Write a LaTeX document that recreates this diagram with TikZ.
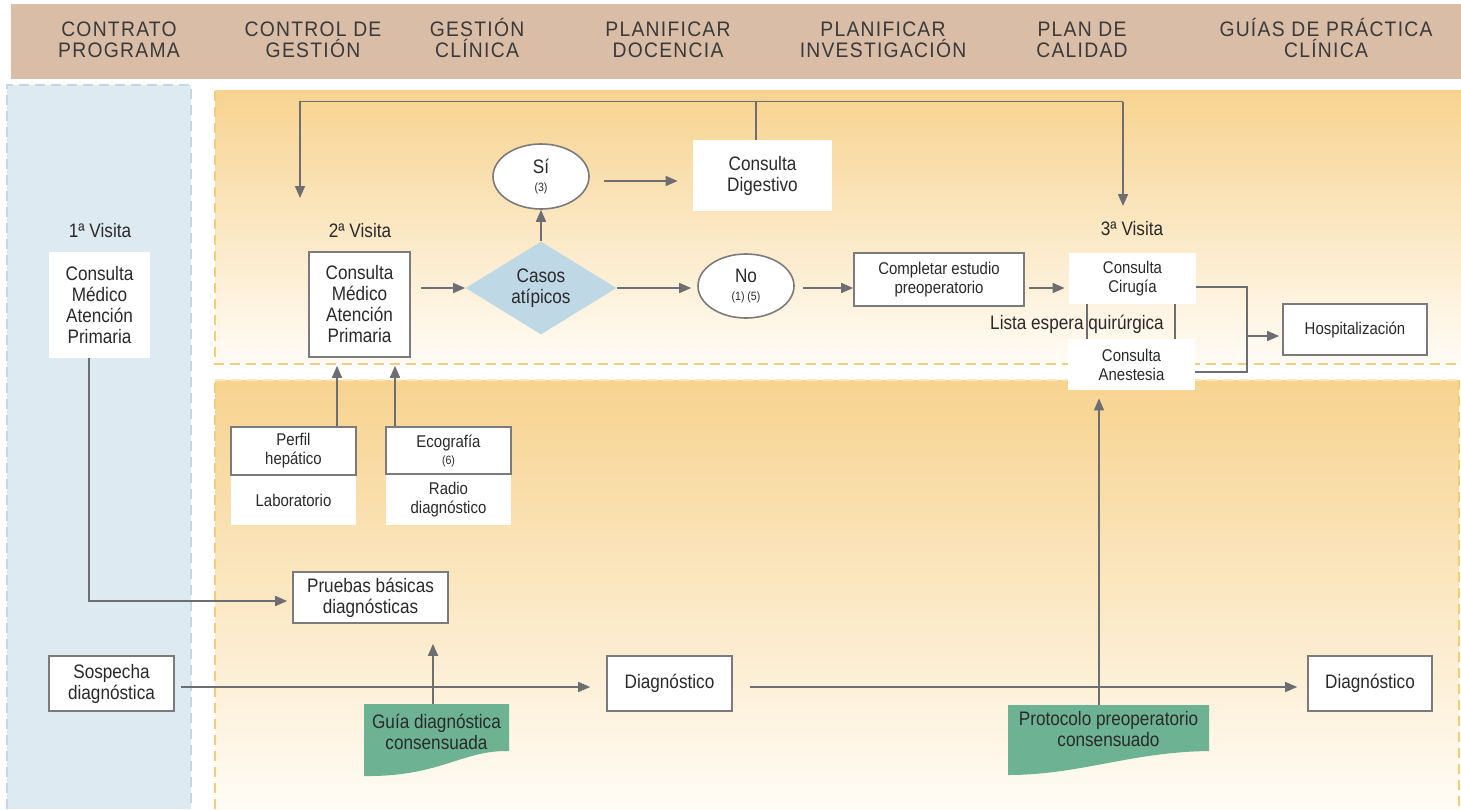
\documentclass[tikz,border=0pt]{standalone}
\usepackage{fontspec}
\setmainfont{Liberation Sans}[FakeStretch=0.88]
\newfontfamily\hdrfont{Liberation Sans}[FakeStretch=0.92,LetterSpace=6]
\usetikzlibrary{shapes.geometric,arrows.meta,calc}
\definecolor{hdr}{HTML}{D9BDA6}
\definecolor{blu}{HTML}{DDEAF2}
\definecolor{bluedge}{HTML}{C3D9E6}
\definecolor{orgtop}{HTML}{F7D38F}
\definecolor{orgbot}{HTML}{FFFCF6}
\definecolor{orgedge}{HTML}{F6CB7A}
\definecolor{pale}{HTML}{FBE6BE}
\definecolor{dia}{HTML}{BFD8E6}
\definecolor{grn}{HTML}{6DB393}
\definecolor{lin}{HTML}{6D6E71}
\definecolor{brd}{HTML}{7B7B7D}
\definecolor{txt}{HTML}{2A2A2A}
\definecolor{htxt}{HTML}{3A3A3A}
\newcommand{\lgf}{\fontsize{9.75}{10.5}\selectfont}
\newcommand{\smf}{\fontsize{8.5}{9.5}\selectfont}
\newcommand{\subf}{\fontsize{6}{7}\selectfont}
\newcommand{\hph}{\vphantom{ÍÓ}}
\begin{document}
\begin{tikzpicture}[x=0.5pt,y=-0.5pt,
  every node/.style={text=txt, inner sep=0pt, align=center},
  box/.style={draw=brd, line width=0.8pt, fill=white, font=\lgf},
  wbox/.style={fill=white, font=\lgf},
  sbox/.style={draw=brd, line width=0.8pt, fill=white, font=\smf},
  swbox/.style={fill=white, font=\smf},
  lab/.style={font=\lgf},
  hdrtxt/.style={text=htxt, font=\hdrfont\fontsize{10.5}{10.5}\selectfont},
  ell/.style={ellipse, draw=brd, line width=0.8pt, fill=white, font=\lgf},
  ln/.style={draw=lin, line width=0.8pt},
  arr/.style={ln, -{Triangle[length=6pt,width=5pt]}},
  dsh/.style={line width=0.9pt, dash pattern=on 5pt off 3pt},
]
\useasboundingbox (0,0) rectangle (1461,809);
% panels
\fill[hdr] (11,4) rectangle (1461,79);
\fill[blu] (7,85) rectangle (191,809);
\draw[bluedge, dsh] (7,809) -- (7,85) -- (191,85) -- (191,809);
\shade[top color=orgtop, bottom color=orgbot] (215,90.5) rectangle (1461,364);
\draw[orgedge, dsh] (215,90.5) -- (215,364) -- (1461,364);
\shade[top color=orgtop, bottom color=orgbot] (215,380) rectangle (1459,809);
\draw[orgedge, dsh] (215,809) -- (215,380);
\draw[orgedge, dsh] (1459,380) -- (1459,809);
\draw[pale, dsh] (215,380) -- (1459,380);
% header
\node[hdrtxt] (h1) at (119,38) {\hph CONTRATO\\PROGRAMA};
\node[hdrtxt] (h2) at (313,38) {\hph CONTROL DE\\GESTIÓN};
\node[hdrtxt] (h3) at (477,38) {\hph GESTIÓN\\CLÍNICA};
\node[hdrtxt] (h4) at (668,38) {\hph PLANIFICAR\\DOCENCIA};
\node[hdrtxt] (h5) at (883,38) {\hph PLANIFICAR\\INVESTIGACIÓN};
\node[hdrtxt] (h6) at (1082,38) {\hph PLAN DE\\CALIDAD};
\node[hdrtxt] (h7) at (1326,38) {\hph GUÍAS DE PRÁCTICA\\CLÍNICA};
% green documents
\fill[grn] (364,704) -- (509,704) -- (509,751) .. controls (462,750) and (440,777) .. (364,776) -- cycle;
\fill[grn] (1008,705) -- (1209,705) -- (1209,751) .. controls (1130,752) and (1080,775) .. (1008,775) -- cycle;
\node[lab] (guia) at (436.5,732) {Guía diagnóstica\\consensuada};
\node[lab] (prot) at (1108.5,729) {Protocolo preoperatorio\\consensuado};
% nodes
\node[lab] (v1l) at (100,231) {1ª Visita};
\node[wbox, minimum width=50.5pt, minimum height=53pt] (v1) at (99.5,305) {Consulta\\Médico\\Atención\\Primaria};
\node[lab] (v2l) at (360,231) {2ª Visita};
\node[box, minimum width=50.5pt, minimum height=52.5pt] (v2) at (359.5,304.5) {Consulta\\Médico\\Atención\\Primaria};
\node[diamond, fill=dia, aspect=1.62, minimum width=75.5pt, minimum height=46.5pt, font=\lgf] (dia) at (541,288) {Casos\\atípicos};
\node[ell, minimum width=48pt, minimum height=32.5pt] (si) at (541,176.5) {Sí\\[-1.5pt]{\subf (3)}};
\node[wbox, minimum width=69.5pt, minimum height=35.5pt] (dig) at (762.5,175.5) {Consulta\\Digestivo};
\node[ell, minimum width=48pt, minimum height=32pt] (no) at (746,286) {No\\[-1.5pt]{\subf (1) (5)}};
\node[sbox, minimum width=85pt, minimum height=26.5pt] (comp) at (939,279.5) {Completar estudio\\preoperatorio};
\node[lab] (v3l) at (1132,229) {3ª Visita};
\node[swbox, minimum width=63.5pt, minimum height=25.5pt] (cir) at (1132.5,278.5) {Consulta\\Cirugía};
\node[swbox, minimum width=63.5pt, minimum height=25.5pt] (ane) at (1131.5,364.5) {Consulta\\Anestesia};
\node[lab] (lista) at (1077,324) {Lista espera quirúrgica};
\node[sbox, minimum width=72pt, minimum height=25.5pt] (hos) at (1355,329.5) {Hospitalización};
\node[swbox, minimum width=62.5pt, minimum height=25pt] (labo) at (293.5,500) {Laboratorio};
\node[sbox, minimum width=62.5pt, minimum height=24pt] (per) at (293.5,451) {Perfil\\hepático};
\node[swbox, minimum width=62.5pt, minimum height=25.5pt] (rad) at (448.5,499.5) {Radio\\diagnóstico};
\node[sbox, minimum width=62.5pt, minimum height=23.5pt] (eco) at (448.5,450.5) {Ecografía\\[-1pt]{\subf (6)}};
\node[box, minimum width=77.5pt, minimum height=25.5pt] (pru) at (370.5,597.5) {Pruebas básicas\\diagnósticas};
\node[box, minimum width=62.5pt, minimum height=27.5pt] (sos) at (111.5,683.5) {Sospecha\\diagnóstica};
\node[box, minimum width=62.5pt, minimum height=27.5pt] (d1) at (669.5,683.5) {Diagnóstico};
\node[box, minimum width=62pt, minimum height=27.5pt] (d2) at (1370,683.5) {Diagnóstico};
% connectors - top loop
\coordinate (tl) at (300,101.5);
\coordinate (tr) at (1123,101.5);
\coordinate (el) at (300,198);
\coordinate (er) at (1123,206);
\coordinate (da) at ([xshift=-3.25pt]dig.north);
\draw[ln] (da) -- (da |- tl);
\draw[arr] (tr) -- (er);
\draw[arr] (tr) -- (tl) -- (el);
% main flow
\draw[arr, shorten <=5pt] (v2.east |- dia.west) -- (dia.west);
\draw[arr] (dia.north) -- (dia.north |- si.south);
\draw[arr, shorten <=7pt, shorten >=7.5pt] (si.east |- 0,181) -- (dig.west |- 0,181);
\draw[arr, shorten >=3pt] (dia.east) -- (no.west |- dia.east);
\draw[arr, shorten <=4pt] (no.east |- 0,288) -- (comp.west |- 0,288);
\draw[arr, shorten <=2pt, shorten >=2pt] (comp.east |- 0,288) -- (cir.west |- 0,288);
\coordinate (jn) at (1247,336);
\draw[ln] (cir.east |- 0,287) -| (jn) |- (ane.east |- 0,372);
\draw[arr, shorten >=1.5pt] (jn) -- (hos.west |- jn);
\draw[ln] (1087,0 |- cir.south) -- (1087,0 |- ane.north);
\draw[ln] (1175,0 |- cir.south) -- (1175,0 |- ane.north);
% lower
\coordinate (pa) at ([xshift=21.75pt]per.north);
\draw[arr, shorten >=4pt] (pa) -- (pa |- v2.south);
\coordinate (ea) at ([xshift=-26.75pt]eco.north);
\draw[arr, shorten >=4pt] (ea) -- (ea |- v2.south);
\coordinate (v1a) at ([xshift=-5.25pt]v1.south);
\draw[arr, shorten >=2.5pt] (v1a) |- (pru.west |- 0,601);
\draw[arr, shorten <=3pt, shorten >=8pt] (sos.east |- 0,687) -- (d1.west |- 0,687);
\draw[arr, shorten <=8.5pt, shorten >=5pt] (d1.east |- 0,687) -- (d2.west |- 0,687);
\coordinate (gtop) at (433,704);
\draw[arr, shorten >=10pt] (gtop) -- (gtop |- pru.south);
\coordinate (ptop) at (1099,705);
\draw[arr, shorten >=4pt] (ptop) -- (ptop |- ane.south);
\end{tikzpicture}
\end{document}
